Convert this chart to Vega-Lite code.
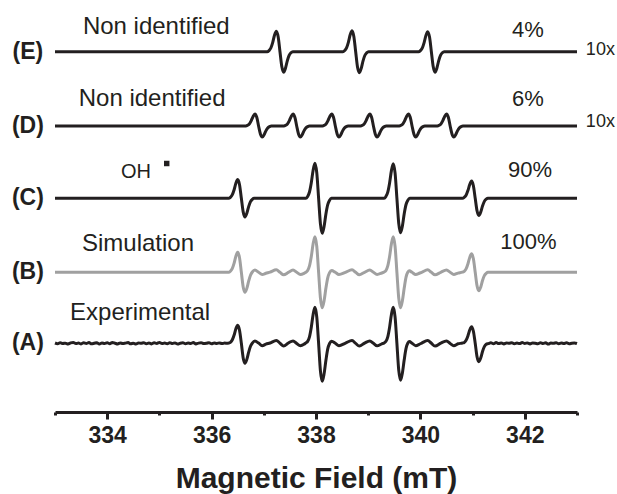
{
"$schema":"https://vega.github.io/schema/vega-lite/v6.json",
"width":522,"height":412,
"autosize":{"type":"none"},
"padding":{"left":55,"top":0,"right":40,"bottom":82},
"config":{"view":{"stroke":null},"font":"Liberation Sans"},
"datasets":{
"traces":[
{"s":"E","mT":333.0,"I":360.3},
{"s":"E","mT":337.065,"I":360.3},{"s":"E","mT":337.1,"I":361.4},{"s":"E","mT":337.135,"I":364.0},{"s":"E","mT":337.17,"I":369.4},{"s":"E","mT":337.205,"I":376.8},{"s":"E","mT":337.24,"I":380.8},{"s":"E","mT":337.275,"I":375.2},{"s":"E","mT":337.31,"I":360.3},{"s":"E","mT":337.345,"I":345.4},{"s":"E","mT":337.38,"I":339.8},{"s":"E","mT":337.415,"I":343.8},{"s":"E","mT":337.45,"I":351.2},{"s":"E","mT":337.485,"I":356.6},{"s":"E","mT":337.52,"I":359.2},{"s":"E","mT":337.555,"I":360.3},
{"s":"E","mT":338.515,"I":360.3},{"s":"E","mT":338.55,"I":361.5},{"s":"E","mT":338.585,"I":364.1},{"s":"E","mT":338.62,"I":369.7},{"s":"E","mT":338.655,"I":377.2},{"s":"E","mT":338.69,"I":381.3},{"s":"E","mT":338.725,"I":375.6},{"s":"E","mT":338.76,"I":360.3},{"s":"E","mT":338.795,"I":345.0},{"s":"E","mT":338.83,"I":339.3},{"s":"E","mT":338.865,"I":343.4},{"s":"E","mT":338.9,"I":350.9},{"s":"E","mT":338.935,"I":356.5},{"s":"E","mT":338.97,"I":359.1},{"s":"E","mT":339.005,"I":360.3},
{"s":"E","mT":339.965,"I":360.3},{"s":"E","mT":340.0,"I":361.4},{"s":"E","mT":340.035,"I":363.9},{"s":"E","mT":340.07,"I":369.2},{"s":"E","mT":340.105,"I":376.4},{"s":"E","mT":340.14,"I":380.3},{"s":"E","mT":340.175,"I":374.9},{"s":"E","mT":340.21,"I":360.3},{"s":"E","mT":340.245,"I":345.4},{"s":"E","mT":340.28,"I":339.8},{"s":"E","mT":340.315,"I":343.8},{"s":"E","mT":340.35,"I":351.2},{"s":"E","mT":340.385,"I":356.6},{"s":"E","mT":340.42,"I":359.2},{"s":"E","mT":340.455,"I":360.3},
{"s":"E","mT":343.0,"I":360.3},
{"s":"D","mT":333.0,"I":286.0},
{"s":"D","mT":336.655,"I":286.0},{"s":"D","mT":336.69,"I":286.7},{"s":"D","mT":336.725,"I":288.2},{"s":"D","mT":336.76,"I":291.4},{"s":"D","mT":336.795,"I":295.6},{"s":"D","mT":336.83,"I":298.0},{"s":"D","mT":336.865,"I":294.7},{"s":"D","mT":336.9,"I":286.0},{"s":"D","mT":336.935,"I":278.0},{"s":"D","mT":336.97,"I":275.0},{"s":"D","mT":337.005,"I":277.2},{"s":"D","mT":337.04,"I":281.1},{"s":"D","mT":337.075,"I":284.0},{"s":"D","mT":337.11,"I":285.4},{"s":"D","mT":337.145,"I":286.0},
{"s":"D","mT":337.385,"I":286.0},{"s":"D","mT":337.42,"I":286.7},{"s":"D","mT":337.455,"I":288.2},{"s":"D","mT":337.49,"I":291.4},{"s":"D","mT":337.525,"I":295.6},{"s":"D","mT":337.56,"I":298.0},{"s":"D","mT":337.595,"I":294.7},{"s":"D","mT":337.63,"I":286.0},{"s":"D","mT":337.665,"I":278.0},{"s":"D","mT":337.7,"I":275.0},{"s":"D","mT":337.735,"I":277.2},{"s":"D","mT":337.77,"I":281.1},{"s":"D","mT":337.805,"I":284.0},{"s":"D","mT":337.84,"I":285.4},{"s":"D","mT":337.875,"I":286.0},
{"s":"D","mT":338.125,"I":286.0},{"s":"D","mT":338.16,"I":286.7},{"s":"D","mT":338.195,"I":288.2},{"s":"D","mT":338.23,"I":291.4},{"s":"D","mT":338.265,"I":295.6},{"s":"D","mT":338.3,"I":298.0},{"s":"D","mT":338.335,"I":294.7},{"s":"D","mT":338.37,"I":286.0},{"s":"D","mT":338.405,"I":278.0},{"s":"D","mT":338.44,"I":275.0},{"s":"D","mT":338.475,"I":277.2},{"s":"D","mT":338.51,"I":281.1},{"s":"D","mT":338.545,"I":284.0},{"s":"D","mT":338.58,"I":285.4},{"s":"D","mT":338.615,"I":286.0},
{"s":"D","mT":338.855,"I":286.0},{"s":"D","mT":338.89,"I":286.7},{"s":"D","mT":338.925,"I":288.2},{"s":"D","mT":338.96,"I":291.4},{"s":"D","mT":338.995,"I":295.6},{"s":"D","mT":339.03,"I":298.0},{"s":"D","mT":339.065,"I":294.7},{"s":"D","mT":339.1,"I":286.0},{"s":"D","mT":339.135,"I":278.0},{"s":"D","mT":339.17,"I":275.0},{"s":"D","mT":339.205,"I":277.2},{"s":"D","mT":339.24,"I":281.1},{"s":"D","mT":339.275,"I":284.0},{"s":"D","mT":339.31,"I":285.4},{"s":"D","mT":339.345,"I":286.0},
{"s":"D","mT":339.595,"I":286.0},{"s":"D","mT":339.63,"I":286.7},{"s":"D","mT":339.665,"I":288.2},{"s":"D","mT":339.7,"I":291.4},{"s":"D","mT":339.735,"I":295.6},{"s":"D","mT":339.77,"I":298.0},{"s":"D","mT":339.805,"I":294.7},{"s":"D","mT":339.84,"I":286.0},{"s":"D","mT":339.875,"I":278.0},{"s":"D","mT":339.91,"I":275.0},{"s":"D","mT":339.945,"I":277.2},{"s":"D","mT":339.98,"I":281.1},{"s":"D","mT":340.015,"I":284.0},{"s":"D","mT":340.05,"I":285.4},{"s":"D","mT":340.085,"I":286.0},
{"s":"D","mT":340.325,"I":286.0},{"s":"D","mT":340.36,"I":286.7},{"s":"D","mT":340.395,"I":288.2},{"s":"D","mT":340.43,"I":291.4},{"s":"D","mT":340.465,"I":295.6},{"s":"D","mT":340.5,"I":298.0},{"s":"D","mT":340.535,"I":294.7},{"s":"D","mT":340.57,"I":286.0},{"s":"D","mT":340.605,"I":278.0},{"s":"D","mT":340.64,"I":275.0},{"s":"D","mT":340.675,"I":277.2},{"s":"D","mT":340.71,"I":281.1},{"s":"D","mT":340.745,"I":284.0},{"s":"D","mT":340.78,"I":285.4},{"s":"D","mT":340.815,"I":286.0},
{"s":"D","mT":343.0,"I":286.0},
{"s":"C","mT":333.0,"I":213.7},{"s":"C","mT":336.325,"I":213.7},{"s":"C","mT":336.36,"I":214.7},{"s":"C","mT":336.395,"I":217.1},{"s":"C","mT":336.43,"I":222.0},{"s":"C","mT":336.465,"I":228.7},{"s":"C","mT":336.5,"I":232.4},{"s":"C","mT":336.535,"I":227.3},{"s":"C","mT":336.57,"I":213.7},{"s":"C","mT":336.605,"I":200.1},{"s":"C","mT":336.64,"I":195.0},{"s":"C","mT":336.675,"I":198.7},{"s":"C","mT":336.71,"I":205.4},{"s":"C","mT":336.745,"I":210.3},{"s":"C","mT":336.78,"I":212.7},{"s":"C","mT":336.815,"I":213.7},
{"s":"C","mT":337.805,"I":213.7},{"s":"C","mT":337.84,"I":215.6},{"s":"C","mT":337.875,"I":220.0},{"s":"C","mT":337.91,"I":229.3},{"s":"C","mT":337.945,"I":241.8},{"s":"C","mT":337.98,"I":248.7},{"s":"C","mT":338.015,"I":239.2},{"s":"C","mT":338.05,"I":213.7},{"s":"C","mT":338.085,"I":188.2},{"s":"C","mT":338.12,"I":178.7},{"s":"C","mT":338.155,"I":185.6},{"s":"C","mT":338.19,"I":198.1},{"s":"C","mT":338.225,"I":207.4},{"s":"C","mT":338.26,"I":211.8},{"s":"C","mT":338.295,"I":213.7},
{"s":"C","mT":339.305,"I":213.7},{"s":"C","mT":339.34,"I":215.6},{"s":"C","mT":339.375,"I":219.9},{"s":"C","mT":339.41,"I":229.1},{"s":"C","mT":339.445,"I":241.4},{"s":"C","mT":339.48,"I":248.2},{"s":"C","mT":339.515,"I":238.8},{"s":"C","mT":339.55,"I":213.7},{"s":"C","mT":339.585,"I":188.6},{"s":"C","mT":339.62,"I":179.2},{"s":"C","mT":339.655,"I":186.0},{"s":"C","mT":339.69,"I":198.3},{"s":"C","mT":339.725,"I":207.5},{"s":"C","mT":339.76,"I":211.8},{"s":"C","mT":339.795,"I":213.7},
{"s":"C","mT":340.805,"I":213.7},{"s":"C","mT":340.84,"I":214.7},{"s":"C","mT":340.875,"I":216.8},{"s":"C","mT":340.91,"I":221.4},{"s":"C","mT":340.945,"I":227.5},{"s":"C","mT":340.98,"I":230.9},{"s":"C","mT":341.015,"I":226.2},{"s":"C","mT":341.05,"I":213.7},{"s":"C","mT":341.085,"I":201.2},{"s":"C","mT":341.12,"I":196.5},{"s":"C","mT":341.155,"I":199.9},{"s":"C","mT":341.19,"I":206.0},{"s":"C","mT":341.225,"I":210.6},{"s":"C","mT":341.26,"I":212.8},{"s":"C","mT":341.295,"I":213.7},{"s":"C","mT":343.0,"I":213.7},
{"s":"B","mT":333.0,"I":139.7},{"s":"B","mT":336.325,"I":139.7},{"s":"B","mT":336.36,"I":140.8},{"s":"B","mT":336.395,"I":143.3},{"s":"B","mT":336.43,"I":148.6},{"s":"B","mT":336.465,"I":155.8},{"s":"B","mT":336.5,"I":159.7},{"s":"B","mT":336.535,"I":154.3},{"s":"B","mT":336.57,"I":139.7},{"s":"B","mT":336.605,"I":125.1},{"s":"B","mT":336.64,"I":119.7},{"s":"B","mT":336.675,"I":123.6},{"s":"B","mT":336.71,"I":130.8},{"s":"B","mT":336.745,"I":136.8},{"s":"B","mT":336.78,"I":140.0},{"s":"B","mT":336.83,"I":141.9},{"s":"B","mT":336.9,"I":139.7},{"s":"B","mT":336.97,"I":137.5},{"s":"B","mT":337.04,"I":138.7},{"s":"B","mT":337.12,"I":139.9},{"s":"B","mT":337.24,"I":142.2},{"s":"B","mT":337.31,"I":139.7},{"s":"B","mT":337.38,"I":137.2},{"s":"B","mT":337.47,"I":139.6},{"s":"B","mT":337.56,"I":141.9},{"s":"B","mT":337.63,"I":139.7},{"s":"B","mT":337.7,"I":137.5},{"s":"B","mT":337.77,"I":138.7},{"s":"B","mT":337.805,"I":139.8},
{"s":"B","mT":337.84,"I":141.5},{"s":"B","mT":337.875,"I":146.1},{"s":"B","mT":337.91,"I":155.5},{"s":"B","mT":337.945,"I":168.2},{"s":"B","mT":337.98,"I":175.2},{"s":"B","mT":338.015,"I":165.5},{"s":"B","mT":338.05,"I":139.7},{"s":"B","mT":338.085,"I":113.9},{"s":"B","mT":338.12,"I":104.2},{"s":"B","mT":338.155,"I":111.2},{"s":"B","mT":338.19,"I":123.9},{"s":"B","mT":338.225,"I":134.2},{"s":"B","mT":338.26,"I":139.4},{"s":"B","mT":338.3,"I":141.5},{"s":"B","mT":338.37,"I":139.7},{"s":"B","mT":338.44,"I":137.5},{"s":"B","mT":338.565,"I":139.7},{"s":"B","mT":338.69,"I":142.2},{"s":"B","mT":338.76,"I":139.7},{"s":"B","mT":338.83,"I":137.2},{"s":"B","mT":338.93,"I":139.7},{"s":"B","mT":339.03,"I":141.9},{"s":"B","mT":339.1,"I":139.7},{"s":"B","mT":339.17,"I":137.5},{"s":"B","mT":339.26,"I":139.0},{"s":"B","mT":339.305,"I":140.0},
{"s":"B","mT":339.34,"I":141.6},{"s":"B","mT":339.375,"I":146.1},{"s":"B","mT":339.41,"I":155.5},{"s":"B","mT":339.445,"I":168.2},{"s":"B","mT":339.48,"I":175.2},{"s":"B","mT":339.515,"I":165.5},{"s":"B","mT":339.55,"I":139.7},{"s":"B","mT":339.585,"I":113.9},{"s":"B","mT":339.62,"I":104.2},{"s":"B","mT":339.655,"I":111.2},{"s":"B","mT":339.69,"I":123.9},{"s":"B","mT":339.725,"I":134.8},{"s":"B","mT":339.76,"I":139.9},{"s":"B","mT":339.79,"I":141.2},{"s":"B","mT":339.84,"I":139.7},{"s":"B","mT":339.91,"I":137.5},{"s":"B","mT":339.99,"I":139.0},{"s":"B","mT":340.025,"I":139.7},{"s":"B","mT":340.14,"I":142.2},{"s":"B","mT":340.21,"I":139.7},{"s":"B","mT":340.28,"I":137.2},{"s":"B","mT":340.39,"I":139.7},{"s":"B","mT":340.5,"I":141.9},{"s":"B","mT":340.57,"I":139.7},{"s":"B","mT":340.64,"I":137.5},{"s":"B","mT":340.72,"I":138.9},{"s":"B","mT":340.805,"I":139.9},
{"s":"B","mT":340.84,"I":140.7},{"s":"B","mT":340.875,"I":143.1},{"s":"B","mT":340.91,"I":148.0},{"s":"B","mT":340.945,"I":154.6},{"s":"B","mT":340.98,"I":158.2},{"s":"B","mT":341.015,"I":153.2},{"s":"B","mT":341.05,"I":139.7},{"s":"B","mT":341.085,"I":126.2},{"s":"B","mT":341.12,"I":121.2},{"s":"B","mT":341.155,"I":124.8},{"s":"B","mT":341.19,"I":131.5},{"s":"B","mT":341.225,"I":136.4},{"s":"B","mT":341.26,"I":138.7},{"s":"B","mT":341.295,"I":139.7},{"s":"B","mT":343.0,"I":139.7},
{"s":"A","mT":333.0,"I":69.0},{"s":"A","mT":333.05,"I":68.3},{"s":"A","mT":333.1,"I":69.3},{"s":"A","mT":333.15,"I":68.5},{"s":"A","mT":333.2,"I":68.8},{"s":"A","mT":333.25,"I":68.0},{"s":"A","mT":333.3,"I":69.1},{"s":"A","mT":333.35,"I":69.5},{"s":"A","mT":333.4,"I":68.4},{"s":"A","mT":333.45,"I":68.9},{"s":"A","mT":333.5,"I":68.1},{"s":"A","mT":333.55,"I":69.2},{"s":"A","mT":333.6,"I":68.6},{"s":"A","mT":333.65,"I":69.4},{"s":"A","mT":333.7,"I":68.2},{"s":"A","mT":333.75,"I":68.7},{"s":"A","mT":333.8,"I":69.3},{"s":"A","mT":333.85,"I":67.9},{"s":"A","mT":333.9,"I":69.0},{"s":"A","mT":333.95,"I":68.5},{"s":"A","mT":334.0,"I":69.2},{"s":"A","mT":334.05,"I":68.3},{"s":"A","mT":334.1,"I":69.6},{"s":"A","mT":334.15,"I":68.8},{"s":"A","mT":334.2,"I":68.1},{"s":"A","mT":334.25,"I":69.1},{"s":"A","mT":334.3,"I":68.4},{"s":"A","mT":334.35,"I":68.9},{"s":"A","mT":334.4,"I":69.4},{"s":"A","mT":334.45,"I":68.2},{"s":"A","mT":334.5,"I":68.8},{"s":"A","mT":334.55,"I":68.0},{"s":"A","mT":334.6,"I":69.1},{"s":"A","mT":334.65,"I":68.7},{"s":"A","mT":334.7,"I":69.3},{"s":"A","mT":334.75,"I":68.3},{"s":"A","mT":334.8,"I":69.0},{"s":"A","mT":334.85,"I":68.1},{"s":"A","mT":334.9,"I":69.2},{"s":"A","mT":334.95,"I":68.6},{"s":"A","mT":335.0,"I":69.5},{"s":"A","mT":335.05,"I":68.4},{"s":"A","mT":335.1,"I":68.9},{"s":"A","mT":335.15,"I":68.2},{"s":"A","mT":335.2,"I":69.3},{"s":"A","mT":335.25,"I":68.5},{"s":"A","mT":335.3,"I":69.1},{"s":"A","mT":335.35,"I":68.0},{"s":"A","mT":335.4,"I":68.8},{"s":"A","mT":335.45,"I":69.2},{"s":"A","mT":335.5,"I":68.3},{"s":"A","mT":335.55,"I":69.0},{"s":"A","mT":335.6,"I":68.6},{"s":"A","mT":335.65,"I":69.4},{"s":"A","mT":335.7,"I":68.1},{"s":"A","mT":335.75,"I":68.9},{"s":"A","mT":335.8,"I":69.2},{"s":"A","mT":335.85,"I":68.4},{"s":"A","mT":335.9,"I":68.7},{"s":"A","mT":335.95,"I":69.3},{"s":"A","mT":336.0,"I":68.2},{"s":"A","mT":336.05,"I":69.0},{"s":"A","mT":336.1,"I":68.5},{"s":"A","mT":336.15,"I":69.1},{"s":"A","mT":336.2,"I":68.4},{"s":"A","mT":336.25,"I":68.9},{"s":"A","mT":336.3,"I":68.7},
{"s":"A","mT":336.325,"I":68.9},{"s":"A","mT":336.36,"I":69.7},{"s":"A","mT":336.395,"I":72.0},{"s":"A","mT":336.43,"I":76.7},{"s":"A","mT":336.465,"I":83.2},{"s":"A","mT":336.5,"I":86.7},{"s":"A","mT":336.535,"I":81.8},{"s":"A","mT":336.57,"I":68.7},{"s":"A","mT":336.605,"I":54.1},{"s":"A","mT":336.64,"I":48.7},{"s":"A","mT":336.675,"I":52.6},{"s":"A","mT":336.71,"I":59.8},{"s":"A","mT":336.745,"I":65.7},{"s":"A","mT":336.78,"I":68.9},{"s":"A","mT":336.83,"I":71.0},{"s":"A","mT":336.9,"I":68.9},{"s":"A","mT":336.97,"I":66.2},{"s":"A","mT":337.04,"I":67.8},{"s":"A","mT":337.12,"I":69.0},{"s":"A","mT":337.24,"I":71.6},{"s":"A","mT":337.31,"I":68.8},{"s":"A","mT":337.38,"I":66.0},{"s":"A","mT":337.47,"I":69.0},{"s":"A","mT":337.56,"I":71.1},{"s":"A","mT":337.63,"I":68.5},{"s":"A","mT":337.7,"I":66.3},{"s":"A","mT":337.77,"I":67.7},{"s":"A","mT":337.805,"I":69.1},
{"s":"A","mT":337.84,"I":70.6},{"s":"A","mT":337.875,"I":75.2},{"s":"A","mT":337.91,"I":84.8},{"s":"A","mT":337.945,"I":97.6},{"s":"A","mT":337.98,"I":104.7},{"s":"A","mT":338.015,"I":94.9},{"s":"A","mT":338.05,"I":68.7},{"s":"A","mT":338.085,"I":41.0},{"s":"A","mT":338.12,"I":30.7},{"s":"A","mT":338.155,"I":38.2},{"s":"A","mT":338.19,"I":51.7},{"s":"A","mT":338.225,"I":63.1},{"s":"A","mT":338.26,"I":68.5},{"s":"A","mT":338.3,"I":70.8},{"s":"A","mT":338.37,"I":68.8},{"s":"A","mT":338.44,"I":66.3},{"s":"A","mT":338.565,"I":68.9},{"s":"A","mT":338.69,"I":71.5},{"s":"A","mT":338.76,"I":68.6},{"s":"A","mT":338.83,"I":65.9},{"s":"A","mT":338.93,"I":68.9},{"s":"A","mT":339.03,"I":71.1},{"s":"A","mT":339.1,"I":68.7},{"s":"A","mT":339.17,"I":66.2},{"s":"A","mT":339.26,"I":68.2},{"s":"A","mT":339.305,"I":69.0},
{"s":"A","mT":339.34,"I":70.7},{"s":"A","mT":339.375,"I":75.2},{"s":"A","mT":339.41,"I":84.8},{"s":"A","mT":339.445,"I":97.6},{"s":"A","mT":339.48,"I":104.7},{"s":"A","mT":339.515,"I":94.9},{"s":"A","mT":339.55,"I":68.7},{"s":"A","mT":339.585,"I":41.8},{"s":"A","mT":339.62,"I":31.7},{"s":"A","mT":339.655,"I":39.0},{"s":"A","mT":339.69,"I":52.2},{"s":"A","mT":339.725,"I":63.6},{"s":"A","mT":339.76,"I":69.0},{"s":"A","mT":339.79,"I":70.4},{"s":"A","mT":339.84,"I":68.8},{"s":"A","mT":339.91,"I":66.3},{"s":"A","mT":339.99,"I":68.0},{"s":"A","mT":340.025,"I":68.9},{"s":"A","mT":340.14,"I":71.5},{"s":"A","mT":340.21,"I":68.7},{"s":"A","mT":340.28,"I":65.9},{"s":"A","mT":340.39,"I":68.9},{"s":"A","mT":340.5,"I":71.1},{"s":"A","mT":340.57,"I":68.6},{"s":"A","mT":340.64,"I":66.3},{"s":"A","mT":340.72,"I":68.2},{"s":"A","mT":340.805,"I":69.0},
{"s":"A","mT":340.84,"I":69.6},{"s":"A","mT":340.875,"I":71.7},{"s":"A","mT":340.91,"I":76.1},{"s":"A","mT":340.945,"I":82.0},{"s":"A","mT":340.98,"I":85.3},{"s":"A","mT":341.015,"I":80.8},{"s":"A","mT":341.05,"I":68.7},{"s":"A","mT":341.085,"I":55.3},{"s":"A","mT":341.12,"I":50.3},{"s":"A","mT":341.155,"I":53.9},{"s":"A","mT":341.19,"I":60.5},{"s":"A","mT":341.225,"I":65.4},{"s":"A","mT":341.26,"I":67.7},{"s":"A","mT":341.3,"I":68.4},
{"s":"A","mT":341.35,"I":69.2},{"s":"A","mT":341.4,"I":68.3},{"s":"A","mT":341.45,"I":69.4},{"s":"A","mT":341.5,"I":68.5},{"s":"A","mT":341.55,"I":69.0},{"s":"A","mT":341.6,"I":68.1},{"s":"A","mT":341.65,"I":69.1},{"s":"A","mT":341.7,"I":68.7},{"s":"A","mT":341.75,"I":69.3},{"s":"A","mT":341.8,"I":68.2},{"s":"A","mT":341.85,"I":68.9},{"s":"A","mT":341.9,"I":68.4},{"s":"A","mT":341.95,"I":69.4},{"s":"A","mT":342.0,"I":68.6},{"s":"A","mT":342.05,"I":69.1},{"s":"A","mT":342.1,"I":68.1},{"s":"A","mT":342.15,"I":69.0},{"s":"A","mT":342.2,"I":68.8},{"s":"A","mT":342.25,"I":68.3},{"s":"A","mT":342.3,"I":69.3},{"s":"A","mT":342.35,"I":68.5},{"s":"A","mT":342.4,"I":69.2},{"s":"A","mT":342.45,"I":68.0},{"s":"A","mT":342.5,"I":68.9},{"s":"A","mT":342.55,"I":68.7},{"s":"A","mT":342.6,"I":69.2},{"s":"A","mT":342.65,"I":68.3},{"s":"A","mT":342.7,"I":69.0},{"s":"A","mT":342.75,"I":68.5},{"s":"A","mT":342.8,"I":69.3},{"s":"A","mT":342.85,"I":68.2},{"s":"A","mT":342.9,"I":68.8},{"s":"A","mT":342.95,"I":69.1},{"s":"A","mT":343.0,"I":68.5}
],
"tags":[
{"label":"(E)","mT":332.48,"I":360.3},{"label":"(D)","mT":332.48,"I":286.0},{"label":"(C)","mT":332.48,"I":213.7},{"label":"(B)","mT":332.48,"I":139.7},{"label":"(A)","mT":332.48,"I":68.7}
],
"notes":[
{"label":"Non identified","mT":334.94,"I":377.7},{"label":"Non identified","mT":334.86,"I":306.0},{"label":"Simulation","mT":334.59,"I":161.3},{"label":"Experimental","mT":334.63,"I":92.0}
],
"pct":[
{"label":"4%","mT":342.06,"I":374.7},{"label":"6%","mT":342.06,"I":306.0},{"label":"90%","mT":342.1,"I":235.3},{"label":"100%","mT":342.07,"I":163.0}
],
"oh":[{"label":"OH","mT":334.55,"I":233.7}],
"gain":[
{"label":"10x","mT":343.17,"I":362.0},{"label":"10x","mT":343.17,"I":290.0}
],
"dot":[{"mT":335.14,"I":248.5}]
},
"resolve":{"axis":{"x":"independent"}},
"layer":[
{"data":{"name":"traces"},
"mark":{"type":"line","strokeWidth":3,"interpolate":"monotone","strokeJoin":"round"},
"encoding":{
"x":{"field":"mT","type":"quantitative","scale":{"domain":[333,343],"nice":false,"zero":false},
"axis":{"orient":"bottom","values":[334,336,338,340,342],"title":"Magnetic Field (mT)","grid":false,"domainColor":"#231f20","domainWidth":3,"tickColor":"#231f20","tickWidth":3,"tickSize":7,"labelFont":"Liberation Sans","labelFontSize":23,"labelFontWeight":"bold","labelColor":"#231f20","labelPadding":5,"titleFont":"Liberation Sans","titleFontSize":30,"titleFontWeight":"bold","titleColor":"#231f20","titlePadding":16,"format":"d"}},
"y":{"field":"I","type":"quantitative","scale":{"domain":[0,412],"nice":false,"zero":false},"axis":null},
"color":{"field":"s","type":"nominal","scale":{"domain":["A","B","C","D","E"],"range":["#231f20","#a0a0a0","#231f20","#231f20","#231f20"]},"legend":null}
}},
{"data":{"name":"tags"},
"mark":{"type":"text","font":"Liberation Sans","fontSize":23,"fontWeight":"bold","align":"center","baseline":"middle","color":"#231f20"},
"encoding":{
"x":{"field":"mT","type":"quantitative","axis":{"orient":"bottom","values":[333,335,337,339,341,343],"labels":false,"domain":false,"grid":false,"title":null,"tickSize":3,"tickWidth":3,"tickColor":"#231f20"}},
"y":{"field":"I","type":"quantitative","axis":null},
"text":{"field":"label"}
}},
{"data":{"name":"notes"},
"mark":{"type":"text","font":"Liberation Sans","fontSize":24,"align":"center","baseline":"alphabetic","color":"#231f20"},
"encoding":{
"x":{"field":"mT","type":"quantitative","axis":null},
"y":{"field":"I","type":"quantitative","axis":null},
"text":{"field":"label"}
}},
{"data":{"name":"pct"},
"mark":{"type":"text","font":"Liberation Sans","fontSize":22,"align":"center","baseline":"alphabetic","color":"#231f20"},
"encoding":{
"x":{"field":"mT","type":"quantitative","axis":null},
"y":{"field":"I","type":"quantitative","axis":null},
"text":{"field":"label"}
}},
{"data":{"name":"oh"},
"mark":{"type":"text","font":"Liberation Sans","fontSize":20,"align":"center","baseline":"alphabetic","color":"#231f20"},
"encoding":{
"x":{"field":"mT","type":"quantitative","axis":null},
"y":{"field":"I","type":"quantitative","axis":null},
"text":{"field":"label"}
}},
{"data":{"name":"gain"},
"mark":{"type":"text","font":"Liberation Sans","fontSize":18,"align":"left","baseline":"middle","color":"#231f20"},
"encoding":{
"x":{"field":"mT","type":"quantitative","axis":null},
"y":{"field":"I","type":"quantitative","axis":null},
"text":{"field":"label"}
}},
{"data":{"name":"dot"},
"mark":{"type":"point","shape":"square","filled":true,"size":30,"color":"#231f20","opacity":1},
"encoding":{
"x":{"field":"mT","type":"quantitative","axis":null},
"y":{"field":"I","type":"quantitative","axis":null}
}}
]
}
